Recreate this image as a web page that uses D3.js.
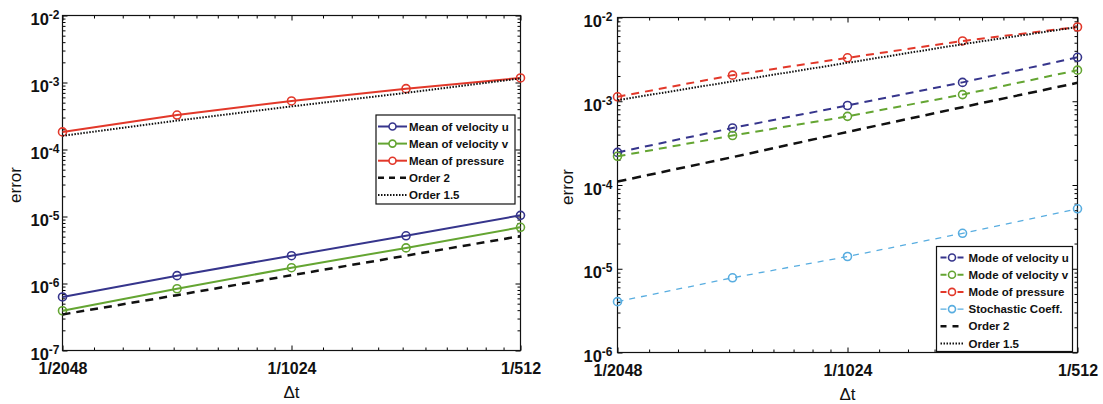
<!DOCTYPE html>
<html>
<head>
<meta charset="utf-8">
<script src="https://cdn.jsdelivr.net/npm/d3@7/dist/d3.min.js"></script>
<style>
  html, body { margin: 0; padding: 0; background: #fff; }
  svg { display: block; }
</style>
</head>
<body>
<svg id="chart" width="1103" height="404"></svg>
<script>
// Time steps (x) and their tick labels
const dtTicks = [1 / 2048, 1 / 1024, 1 / 512];
const dtTickLabels = ["1/2048", "1/1024", "1/512"];
const dt = [1 / 2048, 1 / 1448, 1 / 1024, 1 / 724, 1 / 512];

// Left panel: errors of the mean
const meanNames = ["Mean of velocity u", "Mean of velocity v", "Mean of pressure", "Order 2", "Order 1.5"];
const meanU = [6.3e-7, 1.31e-6, 2.6e-6, 5.15e-6, 1.04e-5];
const meanV = [3.92e-7, 8.35e-7, 1.72e-6, 3.4e-6, 6.9e-6];
const meanP = [1.83e-4, 3.27e-4, 5.3e-4, 8.1e-4, 1.17e-3];
const meanOrder2 = [3.45e-7, 6.7e-7, 1.33e-6, 2.6e-6, 5.1e-6];
const meanOrder15 = [1.6e-4, 2.7e-4, 4.4e-4, 7.0e-4, 1.15e-3];

// Right panel: errors of the modes
const modeNames = ["Mode of velocity u", "Mode of velocity v", "Mode of pressure", "Stochastic Coeff.", "Order 2", "Order 1.5"];
const modeU = [2.45e-4, 4.8e-4, 8.9e-4, 1.68e-3, 3.35e-3];
const modeV = [2.2e-4, 3.9e-4, 6.6e-4, 1.2e-3, 2.35e-3];
const modeP = [1.13e-3, 2.05e-3, 3.3e-3, 5.25e-3, 7.7e-3];
const stochCoeff = [4.05e-6, 7.8e-6, 1.4e-5, 2.65e-5, 5.2e-5];
const modeOrder2 = [1.1e-4, 2.15e-4, 4.3e-4, 8.5e-4, 1.66e-3];
const modeOrder15 = [1.03e-3, 1.73e-3, 2.88e-3, 4.8e-3, 7.7e-3];

const FONT = "'Liberation Sans', Arial, Helvetica, sans-serif";
const C = { blue: "#36358c", green: "#64a532", red: "#e2382a", cyan: "#58ade0", black: "#111" };

const svg = d3.select("#chart");

function drawPanel(cfg) {
  const g = svg.append("g");
  const x = d3.scaleLog().base(2).domain([dtTicks[0], dtTicks[dtTicks.length - 1]]).range([cfg.left, cfg.right]);
  const y = d3.scaleLog().domain(cfg.yDomain).range([cfg.bottom, cfg.top]);

  // minor x ticks: ten linear steps inside each octave
  const xMinor = [];
  for (let i = 0; i < dtTicks.length - 1; i++) {
    for (let k = 1; k < 10; k++) xMinor.push(dtTicks[i] * (1 + k / 10));
  }
  // y decades and minor ticks
  const e0 = Math.round(Math.log10(cfg.yDomain[0])), e1 = Math.round(Math.log10(cfg.yDomain[1]));
  const yMajor = d3.range(e0, e1 + 1).map(e => Math.pow(10, e));
  const yMinor = [];
  for (let e = e0; e < e1; e++) for (let k = 2; k < 10; k++) yMinor.push(k * Math.pow(10, e));

  const styleAxis = sel => { sel.select(".domain").remove(); sel.selectAll("line").attr("stroke", "#000"); };

  // x axes (bottom with labels, top mirrored)
  g.append("g").attr("transform", `translate(0,${cfg.bottom})`)
    .call(d3.axisBottom(x).tickValues(dtTicks).tickFormat((d, i) => dtTickLabels[i]).tickSize(-5).tickPadding(12))
    .call(styleAxis)
    .call(a => a.selectAll("text").attr("font-size", 16).attr("font-weight", "bold").attr("font-family", FONT).attr("fill", "#111"));
  g.append("g").attr("transform", `translate(0,${cfg.bottom})`)
    .call(d3.axisBottom(x).tickValues(xMinor).tickFormat("").tickSize(-3)).call(styleAxis);
  g.append("g").attr("transform", `translate(0,${cfg.top})`)
    .call(d3.axisTop(x).tickValues(dtTicks).tickFormat("").tickSize(-5)).call(styleAxis);
  g.append("g").attr("transform", `translate(0,${cfg.top})`)
    .call(d3.axisTop(x).tickValues(xMinor).tickFormat("").tickSize(-3)).call(styleAxis);

  // y axes (left with power-of-ten labels, right mirrored)
  const yl = g.append("g").attr("transform", `translate(${cfg.left},0)`)
    .call(d3.axisLeft(y).tickValues(yMajor).tickFormat("").tickSize(-5)).call(styleAxis);
  yl.selectAll(".tick").each(function (d) {
    const t = d3.select(this).select("text")
      .attr("x", -cfg.labelGap).attr("y", 9).attr("dy", null)
      .attr("text-anchor", "end").attr("font-family", FONT).attr("font-weight", "bold").attr("fill", "#111");
    t.append("tspan").attr("font-size", 16.5).text("10");
    t.append("tspan").attr("font-size", 12).attr("dy", -6).text("-" + Math.abs(Math.round(Math.log10(d))));
  });
  g.append("g").attr("transform", `translate(${cfg.left},0)`)
    .call(d3.axisLeft(y).tickValues(yMinor).tickFormat("").tickSize(-3)).call(styleAxis);
  g.append("g").attr("transform", `translate(${cfg.right},0)`)
    .call(d3.axisRight(y).tickValues(yMajor).tickFormat("").tickSize(-5)).call(styleAxis);
  g.append("g").attr("transform", `translate(${cfg.right},0)`)
    .call(d3.axisRight(y).tickValues(yMinor).tickFormat("").tickSize(-3)).call(styleAxis);

  // frame
  g.append("rect").attr("x", cfg.left).attr("y", cfg.top)
    .attr("width", cfg.right - cfg.left).attr("height", cfg.bottom - cfg.top)
    .attr("fill", "none").attr("stroke", "#111").attr("stroke-width", 1.2);

  // series
  const line = d3.line().x((d, i) => x(dt[i])).y(d => y(d));
  cfg.series.forEach(s => {
    g.append("path").datum(s.values).attr("d", line)
      .attr("fill", "none").attr("stroke", s.color).attr("stroke-width", s.width)
      .attr("stroke-dasharray", s.dash || null);
    if (s.marker) {
      g.selectAll(null).data(s.values).join("circle")
        .attr("cx", (d, i) => x(dt[i])).attr("cy", d => y(d)).attr("r", 4)
        .attr("fill", "none").attr("stroke", s.color).attr("stroke-width", 1.6);
    }
  });

  // axis titles
  g.append("text").attr("transform", `translate(${cfg.yTitleX},${(cfg.top + cfg.bottom) / 2 + 2}) rotate(-90)`)
    .attr("text-anchor", "middle").attr("dy", "0.35em").attr("font-size", 17)
    .attr("font-family", FONT).attr("fill", "#111").text("error");
  g.append("text").attr("x", (cfg.left + cfg.right) / 2).attr("y", cfg.bottom + 42)
    .attr("text-anchor", "middle").attr("dy", "0.35em").attr("font-size", 17)
    .attr("font-family", FONT).attr("fill", "#111").text("Δt");

  // legend
  const L = cfg.legend;
  const lg = g.append("g");
  lg.append("rect").attr("x", L.x).attr("y", L.y).attr("width", L.w).attr("height", L.h)
    .attr("fill", "#fff").attr("stroke", "#111").attr("stroke-width", 1.2);
  cfg.series.forEach((s, i) => {
    const ry = L.y + L.first + i * L.step;
    const x0 = L.x + L.sx0, x1 = L.x + L.sx1, xm = (x0 + x1) / 2;
    lg.append("line").attr("x1", x0).attr("x2", x1).attr("y1", ry).attr("y2", ry)
      .attr("stroke", s.color).attr("stroke-width", s.width)
      .attr("stroke-dasharray", s.legendDash || s.dash || null);
    if (s.marker) {
      lg.append("circle").attr("cx", xm).attr("cy", ry).attr("r", 3.5)
        .attr("fill", "#fff").attr("stroke", s.color).attr("stroke-width", 1.6);
    }
    lg.append("text").attr("x", L.x + L.tx).attr("y", ry).attr("dy", "0.35em")
      .attr("font-size", 11.5).attr("font-weight", "bold").attr("font-family", FONT).attr("fill", "#111")
      .text(s.name);
  });
}

drawPanel({
  left: 62.5, right: 520.5, top: 15.5, bottom: 350.5, yDomain: [1e-7, 1e-2], labelGap: 3, yTitleX: 15,
  series: [
    { name: meanNames[0], values: meanU, color: C.blue, width: 2, marker: true },
    { name: meanNames[1], values: meanV, color: C.green, width: 2, marker: true },
    { name: meanNames[2], values: meanP, color: C.red, width: 2, marker: true },
    { name: meanNames[3], values: meanOrder2, color: C.black, width: 2.5, dash: "8,6", legendDash: "6,5" },
    { name: meanNames[4], values: meanOrder15, color: C.black, width: 2, dash: "1.5,1.5" }
  ],
  legend: { x: 376, y: 115, w: 139, h: 89, first: 11.5, step: 17.1, sx0: 2, sx1: 31, tx: 33 }
});

drawPanel({
  left: 617.5, right: 1077.5, top: 17.5, bottom: 352.5, yDomain: [1e-6, 1e-2], labelGap: 5, yTitleX: 567,
  series: [
    { name: modeNames[0], values: modeU, color: C.blue, width: 2, dash: "8,6", legendDash: "6,11", marker: true },
    { name: modeNames[1], values: modeV, color: C.green, width: 2, dash: "8,6", legendDash: "6,11", marker: true },
    { name: modeNames[2], values: modeP, color: C.red, width: 2, dash: "8,6", legendDash: "6,11", marker: true },
    { name: modeNames[3], values: stochCoeff, color: C.cyan, width: 1.3, dash: "6,6", legendDash: "6,11", marker: true },
    { name: modeNames[4], values: modeOrder2, color: C.black, width: 2.5, dash: "9,6", legendDash: "6,6" },
    { name: modeNames[5], values: modeOrder15, color: C.black, width: 2, dash: "1.5,1.5" }
  ],
  legend: { x: 936.5, y: 246.5, w: 136, h: 105, first: 11, step: 17.2, sx0: 4, sx1: 27, tx: 32 }
});
</script>
</body>
</html>
